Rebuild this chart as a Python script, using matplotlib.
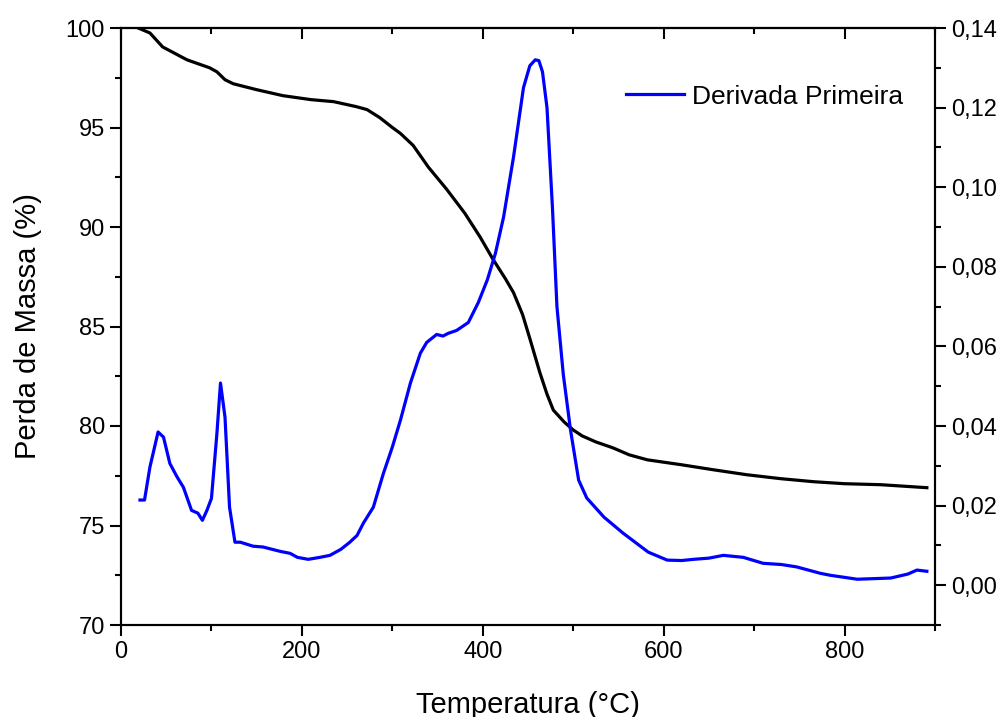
import numpy as np
import matplotlib.pyplot as plt
from matplotlib.ticker import MultipleLocator, FuncFormatter

plt.rcParams['font.family'] = ['Liberation Sans', 'DejaVu Sans']

# TGA - perda de massa (%)
tga_t = [19, 32, 46, 73, 98, 106, 115, 124, 150, 179, 210, 235, 260, 272, 286,
         300, 309, 323, 340, 360, 380, 397, 411, 425, 434, 444, 452, 463, 471,
         478, 490, 500, 510, 525, 544, 562, 582, 620, 655, 692, 730, 766, 800,
         840, 891]
tga_m = [100.0, 99.75, 99.05, 98.4, 98.0, 97.8, 97.4, 97.2, 96.9, 96.6, 96.4,
         96.3, 96.05, 95.9, 95.5, 95.0, 94.7, 94.1, 93.0, 91.9, 90.7, 89.5,
         88.4, 87.4, 86.7, 85.6, 84.4, 82.7, 81.6, 80.8, 80.2, 79.8, 79.5,
         79.2, 78.9, 78.55, 78.3, 78.05, 77.8, 77.55, 77.35, 77.2, 77.1,
         77.05, 76.9]

# DTG - derivada primeira
dtg_t = [21, 26, 32, 41, 47, 54, 62, 69, 78, 85, 90, 95, 100, 106, 110, 115,
         120, 126, 132, 146, 157, 176, 187, 195, 207, 220, 231, 243, 253, 261,
         268, 279, 290, 300, 309, 320, 331, 338, 349, 356, 362, 371, 384, 395,
         405, 414, 423, 434, 445, 452, 458, 462, 466, 471, 477, 482, 489, 497,
         506, 515, 534, 555, 583, 604, 620, 633, 650, 666, 688, 710, 730, 747,
         773, 784, 814, 851, 870, 880, 891]
dtg_v = [0.0214, 0.0214, 0.0297, 0.0385, 0.0372, 0.0306, 0.0272, 0.0246,
         0.0188, 0.0181, 0.0163, 0.0188, 0.0218, 0.0380, 0.0508, 0.0422,
         0.0196, 0.0108, 0.0108, 0.0098, 0.0096, 0.0085, 0.0080, 0.0070,
         0.0065, 0.0070, 0.0075, 0.0090, 0.0108, 0.0125, 0.0156, 0.0196,
         0.0280, 0.0347, 0.0415, 0.0508, 0.0583, 0.0610, 0.0630, 0.0626,
         0.0633, 0.0640, 0.0660, 0.0710, 0.0767, 0.0834, 0.0925, 0.1076,
         0.1250, 0.1305, 0.1320, 0.1318, 0.1290, 0.1200, 0.0950, 0.0700,
         0.0530, 0.0390, 0.0264, 0.0219, 0.0171, 0.0131, 0.0083, 0.0063,
         0.0062, 0.0065, 0.0068, 0.0075, 0.0070, 0.0055, 0.0052, 0.0046,
         0.0030, 0.0025, 0.0015, 0.0018, 0.0028, 0.0038, 0.0035]

fig = plt.figure(figsize=(10.05, 7.17), dpi=100)
ax = fig.add_axes([121/1005, 92/717, 814/1005, 597/717])
ax2 = ax.twinx()

ax.plot(tga_t, tga_m, color='black', lw=2.3)
ax2.plot(dtg_t, dtg_v, color='blue', lw=2.3, label='Derivada Primeira')

ax.set_xlim(0, 900)
ax.set_ylim(70, 100)
ax2.set_ylim(-0.01, 0.14)

ax.xaxis.set_major_locator(MultipleLocator(200))
ax.xaxis.set_minor_locator(MultipleLocator(100))
ax.yaxis.set_major_locator(MultipleLocator(5))
ax.yaxis.set_minor_locator(MultipleLocator(2.5))
ax2.yaxis.set_major_locator(MultipleLocator(0.02))
ax2.yaxis.set_minor_locator(MultipleLocator(0.01))
ax2.yaxis.set_major_formatter(FuncFormatter(lambda v, p: f'{v:.2f}'.replace('.', ',')))

for a in (ax, ax2):
    for s in a.spines.values():
        s.set_linewidth(1.5)
    a.tick_params(which='major', direction='out', length=8, width=1.5, labelsize=17)
    a.tick_params(which='minor', direction='out', length=4, width=1.5)

top = ax.secondary_xaxis('top')
top.xaxis.set_major_locator(MultipleLocator(200))
top.xaxis.set_minor_locator(MultipleLocator(100))
top.tick_params(which='major', direction='in', length=8, width=1.5, labeltop=False)
top.tick_params(which='minor', direction='in', length=4, width=1.5)
top.spines['top'].set_linewidth(1.5)

ax.set_xlabel('Temperatura (°C)', fontsize=21, labelpad=20)
ax.set_ylabel('Perda de Massa (%)', fontsize=21, labelpad=17)

ax2.legend(loc='upper right', bbox_to_anchor=(0.99, 0.945), frameon=False,
           fontsize=19, handlelength=2.2, handletextpad=0.3)

fig.savefig('out.png', dpi=100)
